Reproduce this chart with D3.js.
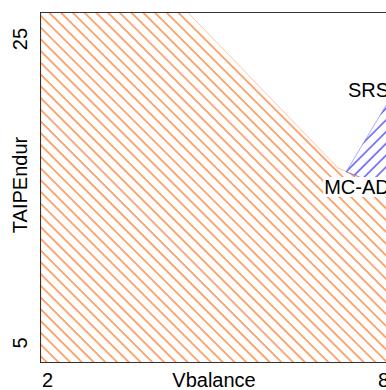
<!DOCTYPE html>
<html>
<head>
<meta charset="utf-8">
<script src="https://cdn.jsdelivr.net/npm/d3@7"></script>
<style>
  body { margin: 0; background: #fff; }
  text { font-family: "Liberation Sans", Arial, sans-serif; font-size: 20px; fill: #000; }
</style>
</head>
<body>
<div id="chart"></div>
<script>
// region outlines (Vbalance, TAIPEndur)
let mcadV = [1.89, 4.5, 7.2, 7.4, 8.7, 8.7, 1.89];
let mcadT = [26.8, 26.8, 16.5, 16.2, 14.1, 3.7, 3.7];
let srsV = [7.34, 8.7, 8.7];
let srsT = [16.25, 24.6, 14.4];

let xTicks = [2, 8];
let yTicks = [5, 25];
let regionLabels = ["MC-AD", "SRS"];
let labelV = [6.95, 7.375];
let labelT = [14.8, 21.18];

let width = 386, height = 390;
let plot = {left: 41, top: 12, right: 420, bottom: 362};

let svg = d3.select("#chart").append("svg")
    .attr("width", width)
    .attr("height", height);

let x = d3.scaleLinear().domain([2, 8]).range([47, 383]);
let y = d3.scaleLinear().domain([5, 25]).range([343, 39]);

let defs = svg.append("defs");

defs.append("clipPath").attr("id", "plot-clip")
    .append("rect")
    .attr("x", plot.left)
    .attr("y", plot.top)
    .attr("width", plot.right - plot.left)
    .attr("height", plot.bottom - plot.top);

function hatch(id, color, angle) {
    let p = defs.append("pattern")
        .attr("id", id)
        .attr("patternUnits", "userSpaceOnUse")
        .attr("width", 8.3)
        .attr("height", 8.3)
        .attr("patternTransform", "rotate(" + angle + ")");
    p.append("line")
        .attr("x1", 1).attr("y1", 0)
        .attr("x2", 1).attr("y2", 8.3)
        .attr("stroke", color)
        .attr("stroke-width", 1.2);
}
hatch("hatch-orange", "#ff6f1a", -45);
hatch("hatch-blue", "#2f2fff", 45);

let g = svg.append("g").attr("clip-path", "url(#plot-clip)");

let line = d3.line().x(d => x(d[0])).y(d => y(d[1]));

let mcad = d3.zip(mcadV, mcadT);
let srs = d3.zip(srsV, srsT);

g.append("path")
    .attr("d", line(mcad) + "Z")
    .attr("fill", "url(#hatch-orange)")
    .attr("stroke", "#ff6f1a")
    .attr("stroke-opacity", 0.5)
    .attr("stroke-width", 0.8);

g.append("path")
    .attr("d", line(srs) + "Z")
    .attr("fill", "url(#hatch-blue)")
    .attr("stroke", "#2f2fff")
    .attr("stroke-opacity", 0.5)
    .attr("stroke-width", 0.8);

// region labels, MC-AD sits on a white box
regionLabels.forEach(function(name, i) {
    let lab = svg.append("g");
    let t = lab.append("text")
        .attr("x", x(labelV[i]))
        .attr("y", y(labelT[i]))
        .text(name);
    let bb = t.node().getBBox();
    if (name === "MC-AD") {
        lab.insert("rect", "text")
            .attr("x", bb.x - 1)
            .attr("y", bb.y + 1)
            .attr("width", bb.width + 2)
            .attr("height", bb.height - 2)
            .attr("fill", "#fff");
    }
});

// frame
svg.append("line")
    .attr("x1", plot.left - 0.5).attr("x2", width)
    .attr("y1", plot.top + 0.5).attr("y2", plot.top + 0.5)
    .attr("stroke", "#333");
svg.append("line")
    .attr("x1", plot.left - 0.5).attr("x2", width)
    .attr("y1", plot.bottom + 0.5).attr("y2", plot.bottom + 0.5)
    .attr("stroke", "#333");
svg.append("line")
    .attr("x1", plot.left - 0.5).attr("x2", plot.left - 0.5)
    .attr("y1", plot.top).attr("y2", plot.bottom + 1)
    .attr("stroke", "#333");

// axes: only labels, no tick marks
let xAxis = d3.axisBottom(x).tickValues(xTicks).tickSize(0).tickPadding(0).tickFormat(d3.format("d"));
let yAxis = d3.axisLeft(y).tickValues(yTicks).tickSize(0).tickPadding(0).tickFormat(d3.format("d"));

let xg = svg.append("g").attr("transform", "translate(0,387)").call(xAxis);
xg.select(".domain").remove();
xg.selectAll("text")
    .attr("y", 0).attr("dy", null)
    .style("font-size", "20px")
    .style("font-family", "'Liberation Sans', Arial, sans-serif")
    .attr("fill", "#000");

let yg = svg.append("g").attr("transform", "translate(27,0)").call(yAxis);
yg.select(".domain").remove();
yg.selectAll(".tick").attr("transform", null);
yg.selectAll("text")
    .attr("dy", null)
    .attr("text-anchor", "middle")
    .style("font-size", "20px")
    .style("font-family", "'Liberation Sans', Arial, sans-serif")
    .attr("fill", "#000")
    .attr("x", 0).attr("y", 0)
    .attr("transform", d => "translate(0," + y(d) + ") rotate(-90)");

svg.append("text")
    .attr("x", 214)
    .attr("y", 387)
    .attr("text-anchor", "middle")
    .text("Vbalance");

svg.append("text")
    .attr("transform", "translate(27,185) rotate(-90)")
    .attr("text-anchor", "middle")
    .text("TAIPEndur");
</script>
</body>
</html>
